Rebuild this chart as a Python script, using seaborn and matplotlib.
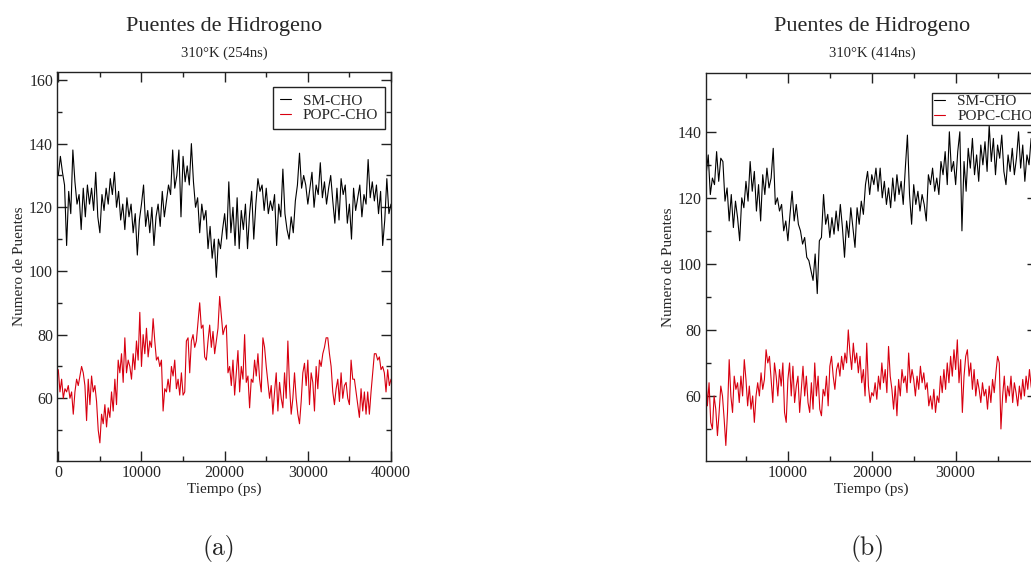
import numpy as np
import pandas as pd
import matplotlib
matplotlib.use("Agg")
import matplotlib.pyplot as plt
import seaborn as sns
from matplotlib.ticker import MultipleLocator

# Datos (numero de puentes de hidrogeno vs tiempo en ps)
# Panel (a): 310K, 254 ns
sm_cho_a = [
    130, 136, 131, 127, 108, 125, 118, 138, 128, 121,
    124, 113, 126, 117, 127, 121, 126, 119, 131, 117,
    112, 124, 119, 126, 121, 129, 124, 131, 120, 125,
    116, 121, 113, 123, 117, 121, 112, 118, 105, 116,
    121, 127, 114, 119, 112, 120, 108, 117, 121, 114,
    125, 117, 122, 127, 124, 138, 126, 130, 138, 117,
    136, 128, 133, 127, 140, 128, 120, 123, 112, 121,
    116, 119, 107, 114, 104, 110, 98, 110, 107, 113,
    118, 110, 128, 112, 120, 108, 123, 107, 119, 113,
    121, 107, 118, 125, 110, 121, 129, 125, 127, 119,
    126, 118, 122, 119, 124, 108, 121, 117, 132, 118,
    113, 110, 117, 112, 122, 127, 137, 126, 130, 127,
    121, 126, 131, 120, 127, 124, 134, 123, 128, 121,
    126, 130, 122, 115, 126, 116, 129, 124, 127, 115,
    121, 110, 126, 119, 123, 127, 117, 124, 121, 135,
    123, 128, 122, 127, 118, 125, 108, 116, 129, 118,
    121,
]
popc_cho_a = [
    69, 62, 66, 60, 63, 62, 64, 60, 62, 55,
    62, 66, 64, 67, 70, 68, 64, 53, 66, 58,
    67, 62, 64, 59, 50, 46, 55, 52, 58, 51,
    57, 54, 62, 56, 66, 58, 72, 68, 74, 65,
    79, 68, 72, 70, 66, 74, 69, 78, 72, 87,
    70, 80, 74, 82, 73, 78, 76, 85, 78, 72,
    73, 70, 72, 56, 63, 62, 66, 62, 70, 67,
    72, 63, 66, 61, 68, 61, 62, 78, 79, 68,
    78, 80, 76, 78, 84, 90, 82, 83, 73, 72,
    78, 83, 76, 81, 74, 78, 82, 92, 86, 80,
    82, 83, 68, 70, 64, 72, 61, 68, 75, 62,
    70, 66, 80, 65, 67, 57, 66, 65, 72, 67,
    74, 66, 62, 79, 76, 70, 65, 60, 64, 55,
    62, 68, 56, 65, 60, 57, 68, 60, 78, 64,
    55, 60, 68, 60, 55, 52, 59, 68, 71, 64,
    72, 58, 68, 65, 56, 70, 63, 72, 70, 74,
    76, 79, 79, 74, 70, 62, 58, 63, 66, 59,
    68, 60, 64, 65, 60, 58, 72, 66, 66, 62,
    58, 54, 63, 56, 62, 55, 62, 55, 62, 68,
    74, 74, 72, 73, 69, 70, 68, 62, 69, 64,
    66,
]

# Panel (b): 310K, 414 ns
sm_cho_b = [
    127, 133, 121, 126, 124, 134, 125, 132, 131, 119,
    123, 113, 121, 111, 119, 114, 107, 120, 117, 125,
    119, 131, 122, 128, 116, 124, 113, 127, 121, 129,
    123, 126, 135, 118, 120, 116, 118, 110, 113, 107,
    115, 122, 113, 118, 112, 110, 106, 108, 102, 101,
    98, 95, 103, 91, 107, 108, 121, 112, 115, 108,
    114, 109, 116, 110, 118, 111, 102, 113, 108, 117,
    111, 105, 117, 112, 119, 115, 124, 128, 121, 127,
    124, 129, 122, 129, 120, 125, 118, 123, 117, 126,
    119, 127, 121, 125, 118, 129, 139, 121, 112, 124,
    118, 122, 116, 121, 118, 113, 127, 124, 129, 122,
    126, 121, 131, 127, 134, 124, 140, 128, 131, 124,
    134, 140, 110, 131, 122, 135, 129, 138, 127, 133,
    125, 136, 130, 137, 128, 142, 131, 138, 127, 136,
    132, 139, 128, 124, 133, 128, 135, 127, 132, 140,
    129, 136, 125, 133, 130, 138, 126, 134, 129, 131,
]
popc_cho_b = [
    68, 57, 64, 52, 50, 60, 56, 48, 55, 63,
    60, 53, 45, 55, 71, 60, 55, 66, 62, 64,
    58, 66, 60, 71, 65, 57, 63, 56, 60, 52,
    60, 64, 60, 67, 62, 65, 74, 70, 72, 65,
    58, 70, 66, 60, 68, 63, 70, 55, 52, 65,
    70, 60, 69, 58, 63, 66, 55, 62, 69, 60,
    66, 58, 55, 64, 56, 70, 60, 66, 56, 54,
    62, 60, 66, 57, 69,
    72, 66, 62, 68, 70, 66, 72, 68, 73, 70,
    80, 73, 68, 76, 70, 73, 67, 72, 64, 68,
    60, 76, 63, 58, 61, 60, 64, 59, 66, 62,
    70, 64, 68, 61, 75, 66, 62, 56, 63, 54,
    65, 60, 68, 64, 66, 61, 73, 64, 68, 65,
    60, 66, 62, 69, 64, 67, 62, 64, 57, 60,
    56, 62, 55, 60, 58, 66, 61, 68, 62, 70,
    64, 72, 66, 74, 68, 77, 64, 71, 55, 66,
    72, 74, 66, 70, 62, 68, 60, 65, 62, 58,
    64, 60, 62, 56, 63, 58, 65, 61, 67, 72,
    70, 50, 60, 66, 58, 63, 60, 66, 58, 64,
    61, 57, 63, 59, 65, 60, 66, 62, 68, 63,
    60, 65, 62, 66,
]

# tiempos de muestreo (ps)
time_sm_a = 250 * np.arange(len(sm_cho_a))
time_popc_a = 200 * np.arange(len(popc_cho_a))
time_sm_b = 250 * (np.arange(len(sm_cho_b)) + 1)
time_popc_b = 200 * (np.arange(len(popc_cho_b)) + 1)

panels = [
    dict(t_sm=time_sm_a, sm=sm_cho_a, t_popc=time_popc_a, popc=popc_cho_a,
         sub="310°K (254ns)", xlim=(-120, 40000), ytop=162.5, tag="(a)",
         rect=[57.3, 72, 333.7, 389], leg=(0.982, 0.961), legpad=0.45),
    dict(t_sm=time_sm_b, sm=sm_cho_b, t_popc=time_popc_b, popc=popc_cho_b,
         sub="310°K (414ns)", xlim=(200, 39700), ytop=157.9, tag="(b)",
         rect=[705.7, 72.7, 331.3, 388.3], leg=(0.994, 0.949), legpad=0.15),
]

W, H = 1031, 562
sns.set_theme(style="ticks")
plt.rcParams['font.family'] = ['Liberation Serif', 'DejaVu Serif']
plt.rcParams['axes.linewidth'] = 1.0

fig = plt.figure(figsize=(W / 100, H / 100), dpi=100)

for p in panels:
    x0, top, w, h = p["rect"]
    ax = fig.add_axes([x0 / W, 1 - (top + h) / H, w / W, h / H])

    df_sm = pd.DataFrame({"t": p["t_sm"], "n": p["sm"]})
    df_popc = pd.DataFrame({"t": p["t_popc"], "n": p["popc"]})
    sns.lineplot(data=df_sm, x="t", y="n", color="black", lw=0.8,
                 estimator=None, sort=False, label="SM-CHO", ax=ax)
    sns.lineplot(data=df_popc, x="t", y="n", color="#d80010", lw=0.8,
                 estimator=None, sort=False, label="POPC-CHO", ax=ax)

    ax.set_xlim(*p["xlim"])
    ax.set_ylim(40.3, p["ytop"])
    ax.xaxis.set_major_locator(MultipleLocator(10000))
    ax.xaxis.set_minor_locator(MultipleLocator(5000))
    ax.yaxis.set_major_locator(MultipleLocator(20))
    ax.yaxis.set_minor_locator(MultipleLocator(10))
    ax.tick_params(which="both", direction="in", top=True, right=True,
                   width=1.0, color="#222222", labelsize=11.5, pad=3)
    ax.tick_params(which="major", length=7)
    ax.tick_params(which="minor", length=3.6)
    for s in ax.spines.values():
        s.set_color("#222222")

    ax.set_xlabel("Tiempo (ps)", fontsize=11, labelpad=1)
    ax.set_ylabel("Numero de Puentes", fontsize=11, labelpad=2)

    ax.legend(loc="upper right", bbox_to_anchor=p["leg"], borderaxespad=0,
              fontsize=11, frameon=True, fancybox=False, framealpha=1,
              edgecolor="#222222", handlelength=0.7, handletextpad=0.8,
              labelspacing=0.05, borderpad=p["legpad"])
    ax.get_legend().get_frame().set_linewidth(1.0)

    cx = (x0 + 333.6 / 2) / W
    fig.text(cx, 1 - 26 / H, "Puentes de Hidrogeno", ha="center", va="center",
             fontsize=16)
    fig.text(cx, 1 - 53 / H, p["sub"], ha="center", va="center", fontsize=10.5)
    fig.text(cx - 5 / W, 1 - 549 / H, p["tag"], ha="center", va="center",
             fontsize=18.5, family="cmr10")

fig.savefig("out.png", dpi=100)
